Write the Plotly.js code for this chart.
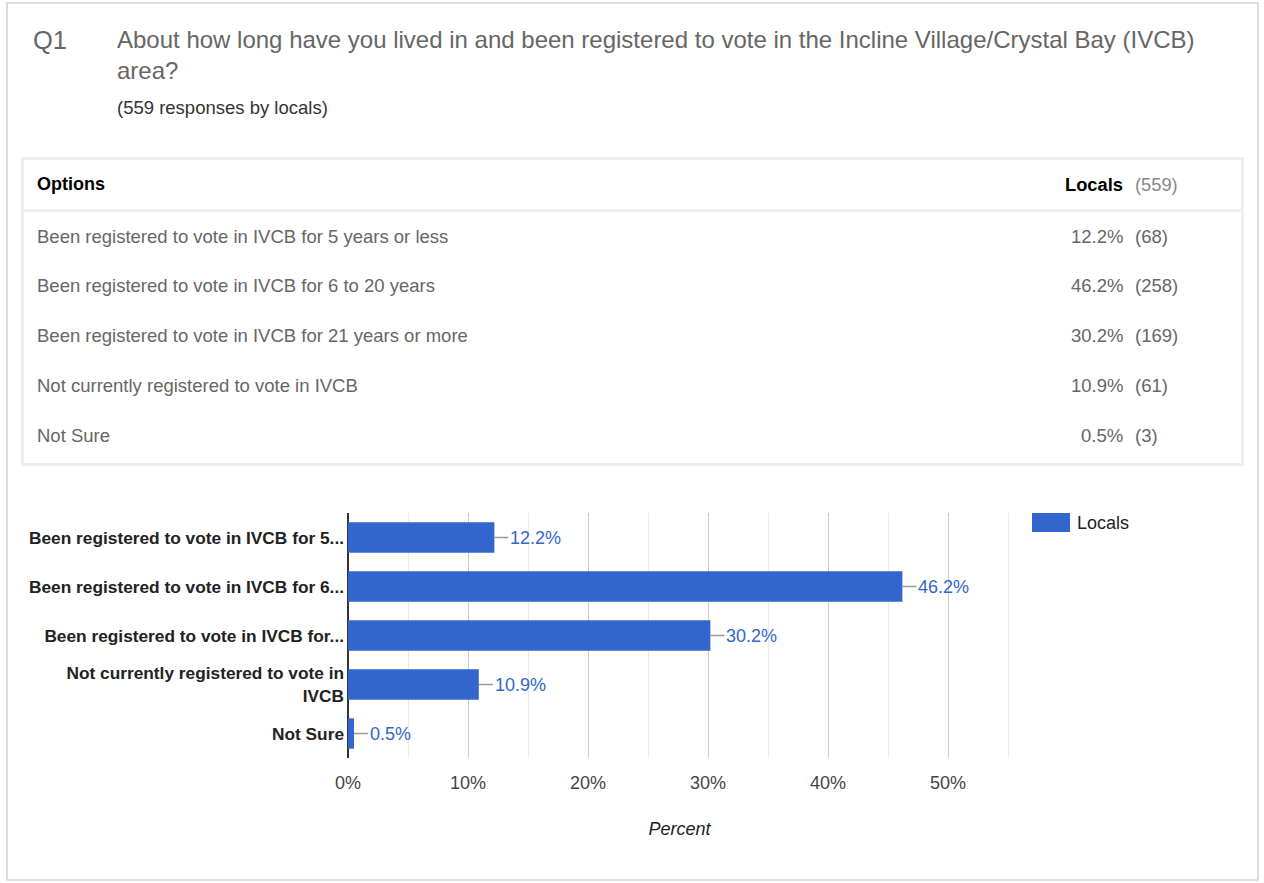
<!DOCTYPE html>
<html>
<head>
<meta charset="utf-8">
<script src="https://cdn.plot.ly/plotly-3.0.1.min.js"></script>
<style>
  html, body { margin: 0; padding: 0; background: #fff; }
  #chart { width: 1264px; height: 883px; }
</style>
</head>
<body>
<div id="chart"></div>
<script>
// ---- data ----
const questionId = "Q1";
const questionText = "About how long have you lived in and been registered to vote in the Incline Village/Crystal Bay (IVCB)<br>area?";
const totalResponses = 559;
const seriesName = "Locals";
const options = [
  "Been registered to vote in IVCB for 5 years or less",
  "Been registered to vote in IVCB for 6 to 20 years",
  "Been registered to vote in IVCB for 21 years or more",
  "Not currently registered to vote in IVCB",
  "Not Sure"
];
const chartLabels = [
  "Been registered to vote in IVCB for 5...",
  "Been registered to vote in IVCB for 6...",
  "Been registered to vote in IVCB for...",
  "Not currently registered to vote in<br>IVCB",
  "Not Sure"
];
const percents = [12.2, 46.2, 30.2, 10.9, 0.5];
const counts = [68, 258, 169, 61, 3];
const xTickVals = [0, 10, 20, 30, 40, 50];
const xTickText = ["0%", "10%", "20%", "30%", "40%", "50%"];

// ---- layout helpers (pixel -> paper) ----
const W = 1264, H = 883;
const L = 348, R = 1011, T = 513, B = 758;
const PX_PER_PCT = 12;
const XMAX = (R - L) / PX_PER_PCT;
const px = x => (x - L) / (R - L);
const py = y => (B - y) / (B - T);
const PADL = -2, PADR = 2;   // compensate annotation box padding
const FONT = "Liberation Sans, Arial, Helvetica, sans-serif";
const BLUE = "#3366cc";

const annotations = [];
const shapes = [];

// outer card
shapes.push({type: "rect", xref: "paper", yref: "paper",
  x0: px(7), x1: px(1258), y0: py(3), y1: py(880),
  line: {color: "#dddddd", width: 2}, fillcolor: "rgba(0,0,0,0)", layer: "below"});

// header
annotations.push({xref: "paper", yref: "paper", x: px(33 + PADL), y: py(40), xanchor: "left", yanchor: "middle",
  text: questionId, showarrow: false, font: {family: FONT, size: 25.5, color: "#666666"}});
annotations.push({xref: "paper", yref: "paper", x: px(117 + PADL), y: py(55), xanchor: "left", yanchor: "middle",
  align: "left", text: questionText, showarrow: false, font: {family: FONT, size: 24, color: "#666666"}});
annotations.push({xref: "paper", yref: "paper", x: px(117 + PADL), y: py(107), xanchor: "left", yanchor: "middle",
  text: "(" + totalResponses + " responses by locals)", showarrow: false,
  font: {family: FONT, size: 18.5, color: "#333333"}});

// table frame
shapes.push({type: "rect", xref: "paper", yref: "paper",
  x0: px(22.5), x1: px(1242.5), y0: py(158.5), y1: py(464.5),
  line: {color: "#eeeeee", width: 3}, fillcolor: "rgba(0,0,0,0)"});
shapes.push({type: "line", xref: "paper", yref: "paper",
  x0: px(22.5), x1: px(1242.5), y0: py(210.5), y1: py(210.5),
  line: {color: "#eeeeee", width: 3}});

// table header
annotations.push({xref: "paper", yref: "paper", x: px(37 + PADL), y: py(184), xanchor: "left", yanchor: "middle",
  text: "<b>Options</b>", showarrow: false, font: {family: FONT, size: 18, color: "#000000"}});
annotations.push({xref: "paper", yref: "paper", x: px(1123 + PADR), y: py(184), xanchor: "right", yanchor: "middle",
  text: "<b>" + seriesName + "</b>", showarrow: false, font: {family: FONT, size: 18.3, color: "#000000"}});
annotations.push({xref: "paper", yref: "paper", x: px(1135 + PADL), y: py(184), xanchor: "left", yanchor: "middle",
  text: "(" + totalResponses + ")", showarrow: false, font: {family: FONT, size: 18.3, color: "#888888"}});

// table rows
options.forEach((opt, i) => {
  const yy = 236 + i * 49.8;
  annotations.push({xref: "paper", yref: "paper", x: px(37 + PADL), y: py(yy), xanchor: "left", yanchor: "middle",
    text: opt, showarrow: false, font: {family: FONT, size: 18.5, color: "#666666"}});
  annotations.push({xref: "paper", yref: "paper", x: px(1123 + PADR), y: py(yy), xanchor: "right", yanchor: "middle",
    text: percents[i].toFixed(1) + "%", showarrow: false, font: {family: FONT, size: 18.5, color: "#666666"}});
  annotations.push({xref: "paper", yref: "paper", x: px(1135 + PADL), y: py(yy), xanchor: "left", yanchor: "middle",
    text: "(" + counts[i] + ")", showarrow: false, font: {family: FONT, size: 18.5, color: "#666666"}});
});

// bar value labels with connector
percents.forEach((v, i) => {
  annotations.push({xref: "x", yref: "y", x: v, y: chartLabels[i],
    text: v.toFixed(1) + "%", showarrow: true, arrowhead: 0, arrowwidth: 1.5, arrowcolor: "#999999",
    ax: 14, ay: 0, xanchor: "left", yanchor: "middle", standoff: 0, startstandoff: 0,
    font: {family: FONT, size: 18, color: BLUE}});
});

// legend
shapes.push({type: "rect", xref: "paper", yref: "paper",
  x0: px(1032), x1: px(1070), y0: py(513), y1: py(532),
  line: {width: 0}, fillcolor: BLUE});
annotations.push({xref: "paper", yref: "paper", x: px(1077 + PADL), y: py(523), xanchor: "left", yanchor: "middle",
  text: seriesName, showarrow: false, font: {family: FONT, size: 18, color: "#222222"}});

const data = [{
  type: "bar", orientation: "h",
  x: percents, y: chartLabels, name: seriesName,
  marker: {color: BLUE, line: {width: 0}},
  width: 0.62, hoverinfo: "x+y", showlegend: false
}];

const layout = {
  width: W, height: H,
  margin: {l: L, r: W - R, t: T, b: H - B, pad: 0},
  paper_bgcolor: "#ffffff", plot_bgcolor: "#ffffff",
  font: {family: FONT, size: 18, color: "#222222"},
  showlegend: false,
  xaxis: {
    range: [0, XMAX], tickvals: xTickVals, ticktext: xTickText,
    showgrid: true, gridcolor: "#cccccc", gridwidth: 1,
    minor: {tickvals: [5, 15, 25, 35, 45, 55], showgrid: true, gridcolor: "#ebebeb", gridwidth: 1},
    zeroline: true, zerolinecolor: "#333333", zerolinewidth: 2,
    showline: false, ticks: "", ticklabelstandoff: 12,
    tickfont: {family: FONT, size: 18, color: "#444444"},
    title: {text: "<i>Percent</i>", standoff: 30, font: {family: FONT, size: 18, color: "#222222"}},
    fixedrange: true
  },
  yaxis: {
    type: "category", autorange: "reversed",
    showgrid: false, zeroline: false, showline: false, ticks: "",
    ticklabelstandoff: 3,
    tickfont: {family: FONT, size: 17.3, color: "#222222", weight: "bold"},
    fixedrange: true
  },
  bargap: 0.38,
  annotations: annotations,
  shapes: shapes
};

Plotly.newPlot("chart", data, layout, {displayModeBar: false, staticPlot: true});
</script>
</body>
</html>
